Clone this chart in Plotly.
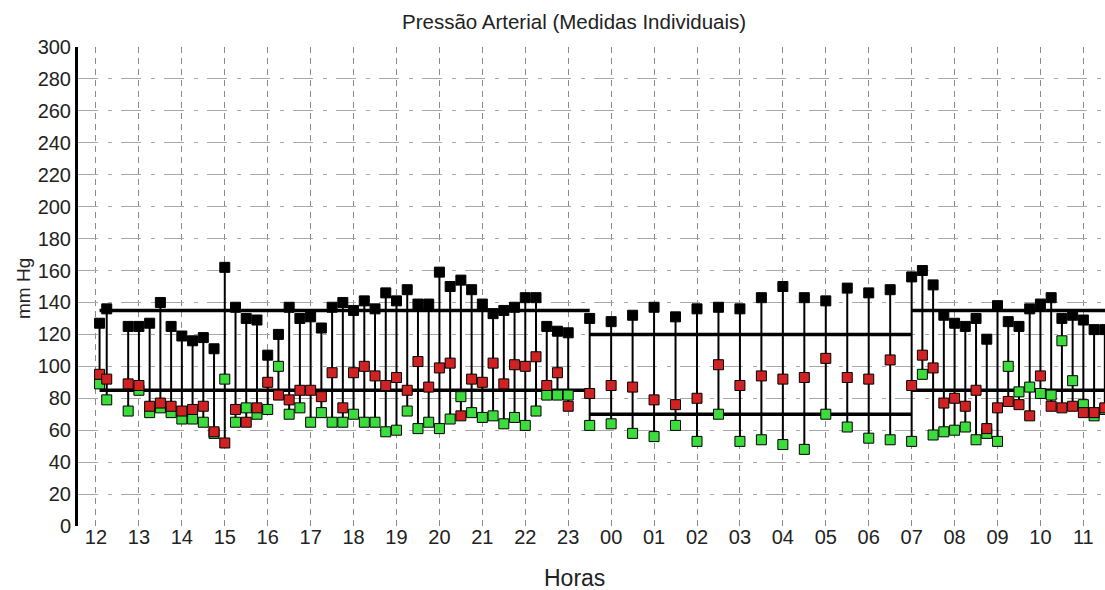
import plotly.graph_objects as go

# ---------------- data ----------------
times = [
    "12:05", "12:15", "12:45", "13:00", "13:15", "13:30", "13:45", "14:00", "14:15", "14:30",
    "14:45", "15:00", "15:15", "15:30", "15:45", "16:00", "16:15", "16:30", "16:45", "17:00",
    "17:15", "17:30", "17:45", "18:00", "18:15", "18:30", "18:45", "19:00", "19:15", "19:30",
    "19:45", "20:00", "20:15", "20:30", "20:45", "21:00", "21:15", "21:30", "21:45", "22:00",
    "22:15", "22:30", "22:45", "23:00", "23:30",
    "00:00", "00:30", "01:00", "01:30", "02:00", "02:30", "03:00", "03:30", "04:00", "04:30",
    "05:00", "05:30", "06:00", "06:30", "07:00",
    "07:15", "07:30", "07:45", "08:00", "08:15", "08:30", "08:45", "09:00", "09:15", "09:30",
    "09:45", "10:00", "10:15", "10:30", "10:45", "11:00", "11:15", "11:30",
]
black_series = [
    127, 136, 125, 125, 127, 140, 125, 119, 116, 118,
    111, 162, 137, 130, 129, 107, 120, 137, 130, 131,
    124, 137, 140, 135, 141, 136, 146, 141, 148, 139,
    139, 159, 150, 154, 148, 139, 133, 135, 137, 143,
    143, 125, 122, 121, 130,
    128, 132, 137, 131, 136, 137, 136, 143, 150, 143,
    141, 149, 146, 148, 156,
    160, 151, 132, 127, 125, 130, 117, 138, 128, 125,
    136, 139, 143, 130, 132, 129, 123, 123,
]
red_series = [
    95, 92, 89, 88, 75, 77, 75, 72, 73, 75,
    59, 52, 73, 65, 74, 90, 82, 79, 85, 85,
    81, 96, 74, 96, 100, 94, 88, 93, 85, 103,
    87, 99, 102, 69, 92, 90, 102, 89, 101, 100,
    106, 88, 96, 75, 83,
    88, 87, 79, 76, 80, 101, 88, 94, 92, 93,
    105, 93, 92, 104, 88,
    107, 99, 77, 80, 75, 85, 61, 74, 78, 76,
    69, 94, 75, 74, 75, 71, 71, 74,
]
green_series = [
    89, 79, 72, 85, 71, 74, 71, 67, 67, 65,
    58, 92, 65, 74, 70, 73, 100, 70, 74, 65,
    71, 65, 65, 70, 65, 65, 59, 60, 72, 61,
    65, 61, 67, 81, 71, 68, 69, 64, 68, 63,
    72, 82, 82, 82, 63,
    64, 58, 56, 63, 53, 70, 53, 54, 51, 48,
    70, 62, 55, 54, 53,
    95, 57, 59, 60, 62, 54, 58, 53, 100, 84,
    87, 83, 82, 116, 91, 76, 69, 73,
]
# reference limits: (start, end, upper, lower)
limit_periods = [
    ("12:05", "23:30", 135, 85),
    ("23:30", "07:00", 120, 70),
    ("07:00", "11:40", 135, 85),
]
hour_ticks = list(range(12, 36))
y_ticks = list(range(0, 301, 20))


def to_h(t):
    hh, mm = (int(p) for p in t.split(":"))
    h = hh + mm / 60.0
    return h if hh >= 12 else h + 24


xs = [to_h(t) for t in times]

stem_x, stem_y = [], []
for x, b, r, g in zip(xs, black_series, red_series, green_series):
    stem_x += [x, x, None]
    stem_y += [b, min(r, g), None]

lim_x, lim_y = [], []
for s, e, up, lo in limit_periods:
    x0, x1 = to_h(s), to_h(e)
    lim_x += [x0, x1, None, x0, x1, None]
    lim_y += [up, up, None, lo, lo, None]

fig = go.Figure()
fig.add_trace(go.Scatter(x=lim_x, y=lim_y, mode="lines",
                         line=dict(color="black", width=3.5), hoverinfo="skip",
                         showlegend=False))
fig.add_trace(go.Scatter(x=stem_x, y=stem_y, mode="lines",
                         line=dict(color="black", width=2), hoverinfo="skip",
                         showlegend=False))
fig.add_trace(go.Scatter(x=xs, y=green_series, mode="markers", name="verde",
                         marker=dict(symbol="square", size=10, color="#3ddc3d",
                                     line=dict(color="black", width=1)),
                         showlegend=False))
fig.add_trace(go.Scatter(x=xs, y=red_series, mode="markers", name="vermelho",
                         marker=dict(symbol="square", size=10, color="#d02222",
                                     line=dict(color="black", width=1)),
                         showlegend=False))
fig.add_trace(go.Scatter(x=xs, y=black_series, mode="markers", name="preto",
                         marker=dict(symbol="square", size=10, color="black",
                                     line=dict(color="black", width=1)),
                         showlegend=False))

font_family = "Liberation Sans, Arial, sans-serif"
fig.update_layout(
    width=1105, height=590, autosize=False,
    margin=dict(l=78, r=0, t=47, b=64, pad=0),
    paper_bgcolor="white", plot_bgcolor="white",
    font=dict(family=font_family, color="#222"),
    showlegend=False,
    xaxis=dict(
        range=[11.581, 35.504],
        tickmode="array", tickvals=hour_ticks,
        ticktext=[f"{h % 24:02d}" for h in hour_ticks],
        showgrid=True, gridcolor="#8a8a8a", gridwidth=1, griddash="6px,5px",
        showline=False, zeroline=False, ticks="",
        ticklabelstandoff=-3,
        tickfont=dict(size=20, color="#222"),
    ),
    yaxis=dict(
        range=[0, 300], tickmode="array", tickvals=y_ticks,
        showgrid=True, gridcolor="#a8a8a8", gridwidth=1,
        griddash="20px,10px,4px,9px",
        showline=True, linecolor="black", linewidth=3, zeroline=False,
        ticks="",
        tickfont=dict(size=20, color="#222"),
    ),
    annotations=[
        dict(text="Pressão Arterial (Medidas Individuais)", xref="paper", yref="paper",
             x=(574 - 78) / 1027, y=1 + 25 / 479, xanchor="center", yanchor="middle",
             showarrow=False, font=dict(size=20.5, color="#222", family=font_family)),
        dict(text="Horas", xref="paper", yref="paper",
             x=(574 - 78) / 1027, y=-(578 - 526) / 479, xanchor="center", yanchor="middle",
             showarrow=False, font=dict(size=23, color="#222", family=font_family)),
        dict(text="mm Hg", xref="paper", yref="paper", textangle=-90,
             x=-(78 - 23) / 1027, y=(526 - 289) / 479, xanchor="center", yanchor="middle",
             showarrow=False, font=dict(size=19, color="#222", family=font_family)),
    ],
)

fig.write_html("out.html")
